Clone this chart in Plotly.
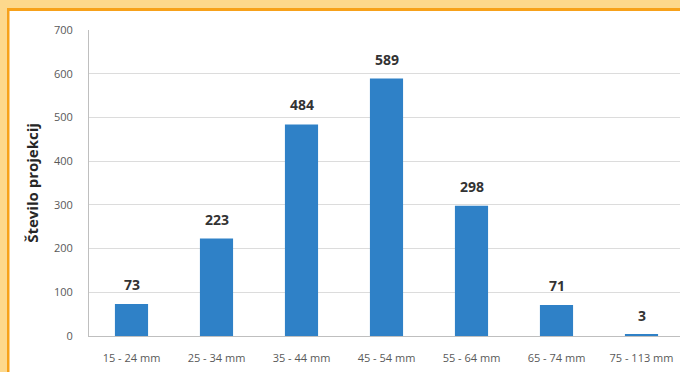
import plotly.graph_objects as go

categories = ["15 - 24 mm", "25 - 34 mm", "35 - 44 mm", "45 - 54 mm",
              "55 - 64 mm", "65 - 74 mm", "75 - 113 mm"]
values = [73, 223, 484, 589, 298, 71, 3]
y_ticks = [0, 100, 200, 300, 400, 500, 600, 700]

fig = go.Figure()
fig.add_trace(go.Bar(
    x=categories, y=values, width=0.39,
    marker=dict(color="#2F81C7", line=dict(width=0)),
))

for c, v in zip(categories, values):
    fig.add_annotation(
        x=c, y=v, text=f"<b>{v}</b>", showarrow=False,
        yanchor="bottom", yshift=8,
        font=dict(family="Open Sans", size=14, color="#333333"),
    )

fig.update_layout(
    width=680, height=372,
    margin=dict(l=89, r=0, t=30, b=36),
    paper_bgcolor="white", plot_bgcolor="white",
    showlegend=False,
    xaxis=dict(
        type="category", range=[-0.5, 6.453],
        showline=True, linecolor="#BFBFBF", linewidth=1,
        ticks="", showgrid=False, ticklabelstandoff=12,
        tickfont=dict(family="Open Sans", size=11, color="#595959"),
    ),
    yaxis=dict(
        range=[0, 700], tickvals=y_ticks,
        showgrid=True, gridcolor="#DCDCDC", gridwidth=1,
        showline=True, linecolor="#BFBFBF", linewidth=1,
        ticks="", ticklabelstandoff=13, zeroline=False,
        tickfont=dict(family="Open Sans", size=11, color="#595959"),
        title=dict(text="<b>Število projekcij</b>", standoff=11,
                   font=dict(family="Open Sans", size=15, color="#262626")),
    ),
    shapes=[
        dict(type="rect", xref="paper", yref="paper", x0=-89/591, x1=1.0,
             y0=(306+30-8)/306, y1=1.2,
             fillcolor="#FDD88C", line=dict(width=0), layer="above"),
        dict(type="rect", xref="paper", yref="paper", x0=-89/591, x1=-82/591,
             y0=-36/306 - 0.1, y1=1.2,
             fillcolor="#FDD88C", line=dict(width=0), layer="above"),
        dict(type="rect", xref="paper", yref="paper", x0=-82/591, x1=1.0,
             y0=(306+30-11)/306, y1=(306+30-8)/306,
             fillcolor="#F7A11A", line=dict(width=0), layer="above"),
        dict(type="rect", xref="paper", yref="paper", x0=-82/591, x1=-79.5/591,
             y0=-36/306 - 0.1, y1=(306+30-8)/306,
             fillcolor="#F7A11A", line=dict(width=0), layer="above"),
    ],
)

fig.write_html("out.html")
